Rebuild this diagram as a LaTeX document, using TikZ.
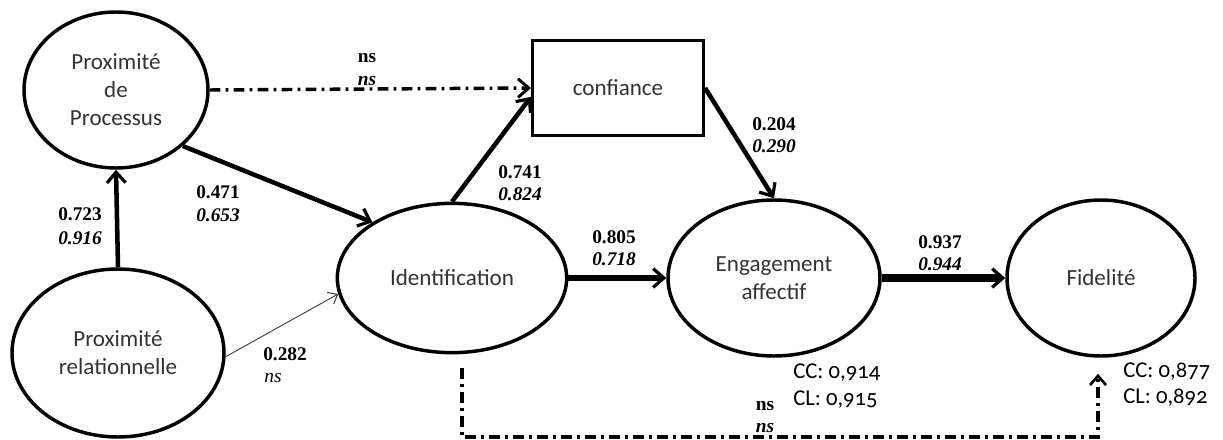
\documentclass[tikz,border=0pt]{standalone}
\usepackage{fontspec}
\setmainfont{Liberation Serif}
\newfontfamily\nodefont{Carlito}[Numbers=OldStyle]
\usetikzlibrary{shapes.geometric,arrows.meta,calc}
\begin{document}
\begin{tikzpicture}[x=0.75pt,y=-0.75pt,
  lat/.style={draw,ellipse,line width=2.6pt,inner sep=0pt,font=\nodefont\fontsize{17.3}{21}\selectfont,text=black!80,align=center},
  boxnode/.style={draw,rectangle,line width=2.6pt,inner sep=0pt,font=\nodefont\fontsize{17.3}{21}\selectfont,text=black!80},
  coef/.style={font=\bfseries\fontsize{14.5}{16}\selectfont,inner sep=0pt},
  coefi/.style={font=\bfseries\itshape\fontsize{14.5}{16}\selectfont,inner sep=0pt},
  rel/.style={font=\nodefont\fontsize{17}{19}\selectfont,inner sep=0pt,anchor=west},
  tip/.style={-{Straight Barb[length=8pt,width=14pt,line width=2.4pt]}},
  path1/.style={tip,line width=3.4pt},
  dashdot/.style={line width=2.6pt,dash pattern=on 8pt off 4pt on 2pt off 4pt},
]
\useasboundingbox (0,0) rectangle (1223,439);
% nodes
\node[lat,minimum width=138pt,minimum height=117pt] (pp) at (116,90) {Proximité\\de\\Processus};
\node[lat,minimum width=159pt,minimum height=126pt] (pr) at (118,353) {Proximité\\relationnelle};
\node[lat,minimum width=172pt,minimum height=112pt] (id) at (452,278) {Identification};
\node[lat,minimum width=159pt,minimum height=117pt] (en) at (774,278) {Engagement\\affectif};
\node[lat,minimum width=141pt,minimum height=117pt] (fi) at (1101,278) {Fidelité};
\node[boxnode,minimum width=128pt,minimum height=71pt] (cf) at (618,88) {confiance};
% connectors
\draw[path1] (pr.north) -- (pp.south);
\draw[dashdot,-{Straight Barb[length=8pt,width=14pt,line width=2.2pt]}] (pp.east) -- (cf.west);
\draw[path1] (pp.-40) -- (id.145);
\draw[-{Straight Barb[length=6pt,width=10pt,line width=0.8pt]},line width=0.7pt,black!75] (pr.-2) -- (id.-172);
\draw[path1] (id.north) -- ($(cf.south west)!0.41!(cf.north west)$);
\draw[path1] (cf.east) -- (en.north);
\draw[tip,line width=4.6pt] (id.east) -- (en.west);
\draw[tip,line width=5.4pt] (en.east) -- (fi.west);
\coordinate (d1) at (462,437);
\coordinate (d2) at (1098,437);
\draw[dashdot,-{Straight Barb[length=7pt,width=12pt,line width=2pt]}] ($(id.south -| d1)+(0,14)$) -- (d1) -- (d2) -- ($(fi.south -| d2)+(0,16)$);
% labels
\node[coef] (l1) at (367,58) {ns};
\node[coefi] (l2) at (367,81) {ns};
\node[coef] (l3) at (218,192) {0.471};
\node[coefi] (l4) at (218,215) {0.653};
\node[coef] (l5) at (80,214) {0.723};
\node[coefi] (l6) at (80,238) {0.916};
\node[coef] (l7) at (520,172) {0.741};
\node[coefi] (l8) at (520,194) {0.824};
\node[coef] (l9) at (774,124) {0.204};
\node[coefi] (l10) at (774,146) {0.290};
\node[coef] (l11) at (614,237) {0.805};
\node[coefi] (l12) at (614,259) {0.718};
\node[coef] (l13) at (940,242) {0.937};
\node[coefi] (l14) at (940,264) {0.944};
\node[coef] (l15) at (285,354) {0.282};
\node[coefi,font=\itshape\fontsize{14.5}{16}\selectfont] (l16) at (273,378) {ns};
\node[coef] (l17) at (765,406) {ns};
\node[coefi] (l18) at (765,428) {ns};
\node[rel] (c1) at (793,373) {CC: 0,914};
\node[rel] (c2) at (793,400) {CL: 0,915};
\node[rel] (c3) at (1123,372) {CC: 0,877};
\node[rel] (c4) at (1123,398) {CL: 0,892};
\end{tikzpicture}
\end{document}
